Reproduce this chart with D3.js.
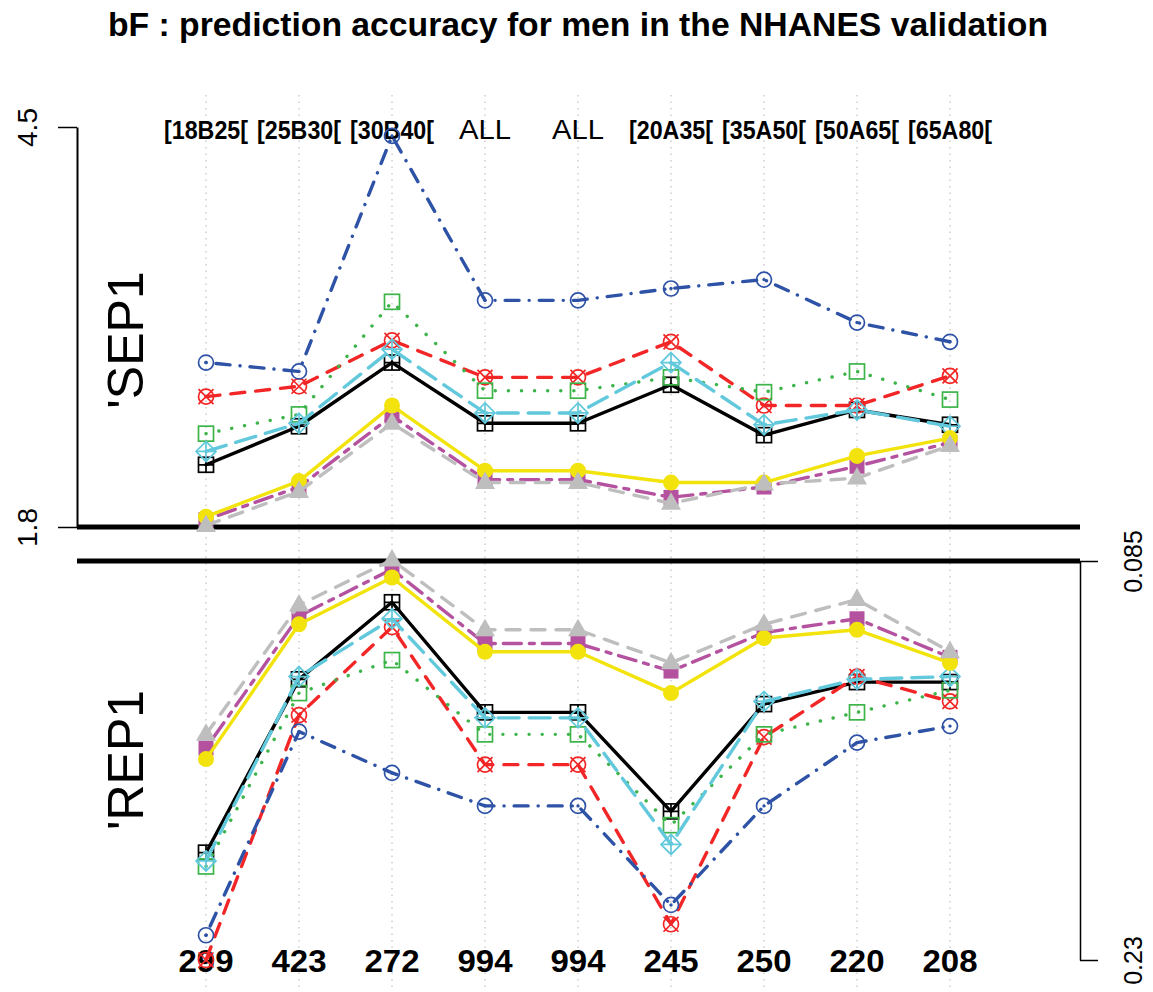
<!DOCTYPE html>
<html>
<head>
<meta charset="utf-8">
<script src="https://cdn.jsdelivr.net/npm/d3@7"></script>
<style>
  body { margin: 0; background: #fff; }
  text { font-family: "Liberation Sans", Arial, sans-serif; }
</style>
</head>
<body>
<div id="chart"></div>
<script>
// categories along the x axis
var groups = ["[18B25[", "[25B30[", "[30B40[", "ALL", "ALL", "[20A35[", "[35A50[", "[50A65[", "[65A80["];
var counts = ["299", "423", "272", "994", "994", "245", "250", "220", "208"];

// upper panel (SEP) values, one array per method
var sepBlack   = [2.22, 2.48, 2.91, 2.50, 2.50, 2.76, 2.42, 2.59, 2.49];
var sepRed     = [2.68, 2.75, 3.06, 2.81, 2.81, 3.05, 2.62, 2.62, 2.82];
var sepGreen   = [2.43, 2.56, 3.32, 2.72, 2.72, 2.81, 2.71, 2.85, 2.66];
var sepBlue    = [2.91, 2.85, 4.44, 3.33, 3.33, 3.41, 3.47, 3.18, 3.05];
var sepCyan    = [2.31, 2.50, 3.00, 2.57, 2.57, 2.91, 2.49, 2.59, 2.48];
var sepMagenta = [1.85, 2.07, 2.55, 2.12, 2.12, 2.00, 2.07, 2.21, 2.37];
var sepYellow  = [1.87, 2.11, 2.62, 2.18, 2.18, 2.10, 2.10, 2.28, 2.40];
var sepGray    = [1.81, 2.04, 2.50, 2.10, 2.10, 1.96, 2.09, 2.13, 2.35];

// lower panel (REP) values
var repBlack   = [0.191, 0.128, 0.100, 0.140, 0.140, 0.176, 0.137, 0.129, 0.129];
var repRed     = [0.230, 0.141, 0.109, 0.159, 0.159, 0.217, 0.149, 0.127, 0.136];
var repGreen   = [0.196, 0.133, 0.121, 0.148, 0.148, 0.181, 0.148, 0.140, 0.132];
var repBlue    = [0.221, 0.147, 0.162, 0.174, 0.174, 0.210, 0.174, 0.151, 0.145];
var repCyan    = [0.194, 0.127, 0.106, 0.142, 0.142, 0.188, 0.136, 0.128, 0.127];
var repMagenta = [0.153, 0.105, 0.088, 0.115, 0.115, 0.125, 0.111, 0.106, 0.120];
var repYellow  = [0.157, 0.108, 0.091, 0.118, 0.118, 0.133, 0.113, 0.110, 0.122];
var repGray    = [0.148, 0.101, 0.0846, 0.110, 0.110, 0.122, 0.108, 0.099, 0.118];

var sepTicks = [1.8, 4.5];
var repTicks = [0.085, 0.23];

var width = 1153, height = 992;

// drawing style per method, in R palette order
var methods = [
    { sep: sepBlack,   rep: repBlack,   color: "#000000", dash: null,            sym: "sqplus" },
    { sep: sepRed,     rep: repRed,     color: "#F22626", dash: "14 11",         sym: "circx" },
    { sep: sepGreen,   rep: repGreen,   color: "#3DB449", dash: "0.1 13",        sym: "square" },
    { sep: sepBlue,    rep: repBlue,    color: "#2E52A6", dash: "0.1 10 14 10",  sym: "circdot" },
    { sep: sepCyan,    rep: repCyan,    color: "#62C9DC", dash: "21 10",         sym: "diamplus" },
    { sep: sepMagenta, rep: repMagenta, color: "#B5529F", dash: "5 8 18 8",      sym: "fsquare" },
    { sep: sepYellow,  rep: repYellow,  color: "#F2E30C", dash: null,            sym: "fcircle" },
    { sep: sepGray,    rep: repGray,    color: "#BEBEBE", dash: "14 11",         sym: "ftriangle" }
];

var svg = d3.select("#chart").append("svg")
    .attr("width", width)
    .attr("height", height);

var x = d3.scalePoint().domain(d3.range(groups.length)).range([206, 950]);
var yTop = d3.scaleLinear().domain([1.8, 4.5]).range([527, 127]);
var yBot = d3.scaleLinear().domain([0.085, 0.23]).range([561, 960]);

// dotted vertical guides
svg.selectAll(".guide").data(groups).enter().append("line")
    .attr("class", "guide")
    .attr("x1", function (d, i) { return x(i); })
    .attr("x2", function (d, i) { return x(i); })
    .attr("y1", 95).attr("y2", height)
    .style("stroke", "#b5b5b5")
    .style("stroke-width", 1)
    .style("stroke-dasharray", "1.5 5");

// title
svg.append("text")
    .attr("x", 578).attr("y", 36)
    .attr("text-anchor", "middle")
    .style("font-weight", "bold")
    .style("font-size", "33px")
    .attr("textLength", 940)
    .attr("lengthAdjust", "spacingAndGlyphs")
    .text("bF : prediction accuracy for men in the NHANES validation");

// group labels on top
svg.selectAll(".grp").data(groups).enter().append("text")
    .attr("class", "grp")
    .attr("x", function (d, i) { return x(i); })
    .attr("y", 139)
    .attr("text-anchor", "middle")
    .style("font-size", function (d) { return d == "ALL" ? "27px" : "25px"; })
    .style("font-weight", function (d) { return d == "ALL" ? "normal" : "bold"; })
    .attr("textLength", function (d) { return d == "ALL" ? 52 : 84; })
    .attr("lengthAdjust", "spacingAndGlyphs")
    .text(function (d) { return d; });

// counts at bottom
svg.selectAll(".cnt").data(counts).enter().append("text")
    .attr("class", "cnt")
    .attr("x", function (d, i) { return x(i); })
    .attr("y", 972)
    .attr("text-anchor", "middle")
    .style("font-size", "31px")
    .style("font-weight", "bold")
    .attr("textLength", 55)
    .attr("lengthAdjust", "spacingAndGlyphs")
    .text(function (d) { return d; });

// left axis (SEP)
var axL = svg.append("g")
    .attr("transform", "translate(77,0)")
    .call(d3.axisLeft(yTop).tickValues(sepTicks).tickSize(19).tickSizeOuter(0)
        .tickFormat(function (d) { return d; }));
axL.select(".domain").style("stroke-width", 2);
axL.selectAll(".tick line").style("stroke-width", 1.5);
axL.selectAll(".tick text").remove();
axL.selectAll(".tick").append("text")
    .attr("transform", "translate(-40,0) rotate(-90)")
    .attr("text-anchor", "middle")
    .attr("fill", "#000")
    .style("font-size", "28px")
    .text(function (d) { return d; });

// right axis (REP)
var axR = svg.append("g")
    .attr("transform", "translate(1080,0)")
    .call(d3.axisRight(yBot).tickValues(repTicks).tickSize(18).tickSizeOuter(0)
        .tickFormat(function (d) { return d; }));
axR.select(".domain").style("stroke-width", 1.5);
axR.selectAll(".tick line").style("stroke-width", 1.5);
axR.selectAll(".tick text").remove();
axR.selectAll(".tick").append("text")
    .attr("transform", "translate(62,0) rotate(-90)")
    .attr("text-anchor", "middle")
    .attr("fill", "#000")
    .style("font-size", "25px")
    .text(function (d) { return d; });

// thick separators
[yTop(1.8), yBot(0.085)].forEach(function (yy) {
    svg.append("line")
        .attr("x1", 77).attr("x2", 1080)
        .attr("y1", yy).attr("y2", yy)
        .style("stroke", "#000")
        .style("stroke-width", 5);
});

// panel names
svg.append("text")
    .attr("transform", "translate(143,340) rotate(-90)")
    .attr("text-anchor", "middle")
    .style("font-size", "50px")
    .text("'SEP1");
svg.append("text")
    .attr("transform", "translate(143,760) rotate(-90)")
    .attr("text-anchor", "middle")
    .style("font-size", "50px")
    .text("'REP1");

function drawSymbol(g, sym, color) {
    var s = 7.5;
    if (sym == "sqplus") {
        g.append("rect").attr("x", -s).attr("y", -s).attr("width", 2 * s).attr("height", 2 * s)
            .style("fill", "none").style("stroke", color).style("stroke-width", 1.7);
        g.append("path").attr("d", "M" + (-s) + ",0H" + s + "M0," + (-s) + "V" + s)
            .style("stroke", color).style("stroke-width", 1.7);
    } else if (sym == "circx") {
        g.append("circle").attr("r", s).style("fill", "none").style("stroke", color).style("stroke-width", 1.7);
        var k = s;
        g.append("path").attr("d", "M" + (-k) + "," + (-k) + "L" + k + "," + k + "M" + (-k) + "," + k + "L" + k + "," + (-k))
            .style("stroke", color).style("stroke-width", 1.7);
    } else if (sym == "square") {
        g.append("rect").attr("x", -s).attr("y", -s).attr("width", 2 * s).attr("height", 2 * s)
            .style("fill", "none").style("stroke", color).style("stroke-width", 1.7);
    } else if (sym == "circdot") {
        g.append("circle").attr("r", s).style("fill", "none").style("stroke", color).style("stroke-width", 1.7);
        g.append("circle").attr("r", 1.7).style("fill", color);
    } else if (sym == "diamplus") {
        var d = 10;
        g.append("path").attr("d", "M0," + (-d) + "L" + d + ",0L0," + d + "L" + (-d) + ",0Z")
            .style("fill", "none").style("stroke", color).style("stroke-width", 1.7);
        g.append("path").attr("d", "M" + (-d) + ",0H" + d + "M0," + (-d) + "V" + d)
            .style("stroke", color).style("stroke-width", 1.7);
    } else if (sym == "fsquare") {
        g.append("rect").attr("x", -s).attr("y", -s).attr("width", 2 * s).attr("height", 2 * s)
            .style("fill", color);
    } else if (sym == "fcircle") {
        g.append("circle").attr("r", 8).style("fill", color);
    } else if (sym == "ftriangle") {
        g.append("path").attr("d", "M0,-11L10,6.5L-10,6.5Z").style("fill", color);
    }
}

function drawPanel(key, y) {
    var line = d3.line()
        .x(function (d, i) { return x(i); })
        .y(function (d) { return y(d); });
    methods.forEach(function (m) {
        svg.append("path")
            .datum(m[key])
            .attr("d", line)
            .style("fill", "none")
            .style("stroke", m.color)
            .style("stroke-width", 3.4)
            .style("stroke-linecap", "round")
            .style("stroke-linejoin", "round")
            .style("stroke-dasharray", m.dash);
        svg.selectAll(null).data(m[key]).enter().append("g")
            .attr("transform", function (d, i) { return "translate(" + x(i) + "," + y(d) + ")"; })
            .each(function () { drawSymbol(d3.select(this), m.sym, m.color); });
    });
}

drawPanel("sep", yTop);
drawPanel("rep", yBot);
</script>
</body>
</html>
